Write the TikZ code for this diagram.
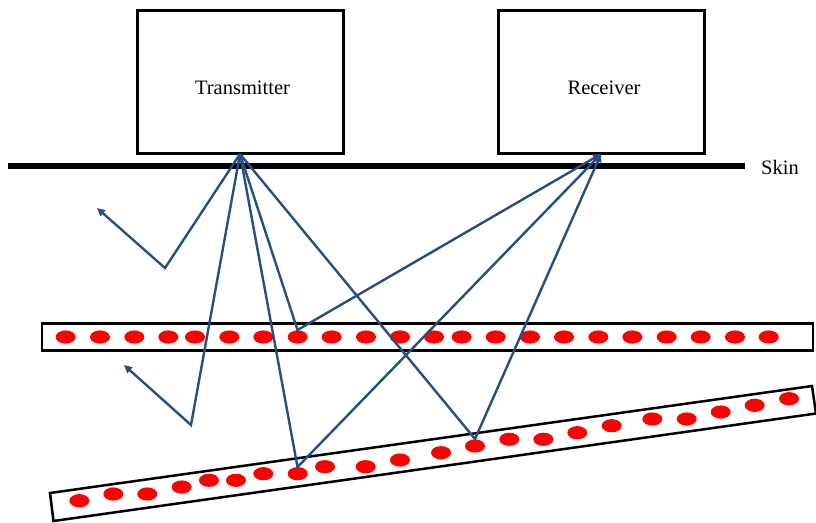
\documentclass[tikz,border=0pt]{standalone}
\usepackage{fontspec}
\setmainfont{Liberation Serif}
\usetikzlibrary{arrows.meta}
\definecolor{ray}{RGB}{38,78,130}
\definecolor{dotred}{RGB}{255,0,0}
\begin{document}
\begin{tikzpicture}[x=1pt,y=-1pt,
  box/.style={draw=black,line width=3pt,minimum width=206pt,minimum height=143pt,inner sep=0pt},
  lbl/.style={font=\fontsize{20.5}{24}\selectfont,inner sep=0pt},
  rayline/.style={draw=ray,line width=2.4pt,line join=miter},
  rayarrow/.style={rayline,-{Triangle[width=7.5pt,length=8pt]}},
  bar/.style={draw=black,line width=2.5pt,fill=white},
  reddot/.style={fill=dotred,draw=none}]
\useasboundingbox (0,0) rectangle (816,522);
% boxes
\node[box] (tx) at (240,81.5) {};
\node[box] (rx) at (601,81.5) {};
\node[lbl,anchor=base] (txl) at (242.5,94) {Transmitter};
\node[lbl,anchor=base] (rxl) at (604,94) {Receiver};
% skin
\coordinate (s1) at (8,166);
\coordinate (s2) at (745,166);
\draw[line width=6pt] (s1) -- (s2);
\node[lbl,anchor=base west] (skin) at (761,174) {Skin};
% horizontal bar
\draw[bar] (42,323.5) rectangle (813,350.5);
\foreach \x in {65.7,100,134.3,168.3,195,229.3,263.3,297.7,331.7,366,400,434,461.7,495.7,530,564,598.3,632.3,666.7,700.7,735,768.7}
  \fill[reddot] (\x,337) ellipse [x radius=10pt, y radius=6.6pt];
% tilted bar
\draw[bar] (50,493) -- (812,386) -- (816,413.5) -- (53.5,521) -- cycle;
\foreach \x/\y in {79.3/500.7,113.3/494,147.3/494,181.7/487,209/480.3,236/480.3,263.3/473.7,297.7/473.7,325/466.7,365.7/466.7,400/460,441/452.7,475/446,509.3/439.3,543.3/439.3,577.3/432.7,611.7/425.7,652.3/419,686.7/419,720.7/412,754.7/405.3,789/398.7}
  \fill[reddot] (\x,\y) ellipse [x radius=10pt, y radius=6.6pt];
% rays
\coordinate (T) at (240,154);
\coordinate (R) at (601,154);
\coordinate (b1) at (165,268);
\coordinate (a1) at (97,208);
\coordinate (b2) at (191,425);
\coordinate (a2) at (124,365);
\coordinate (h1) at (297.5,330);
\coordinate (t1) at (297.5,467);
\coordinate (t2) at (475,439);
\draw[rayarrow] (T) -- (b1) -- (a1);
\draw[rayarrow] (T) -- (b2) -- (a2);
\draw[rayarrow] (T) -- (h1) -- (R);
\draw[rayarrow] (T) -- (t1) -- (R);
\draw[rayarrow] (T) -- (t2) -- (R);
\end{tikzpicture}
\end{document}
